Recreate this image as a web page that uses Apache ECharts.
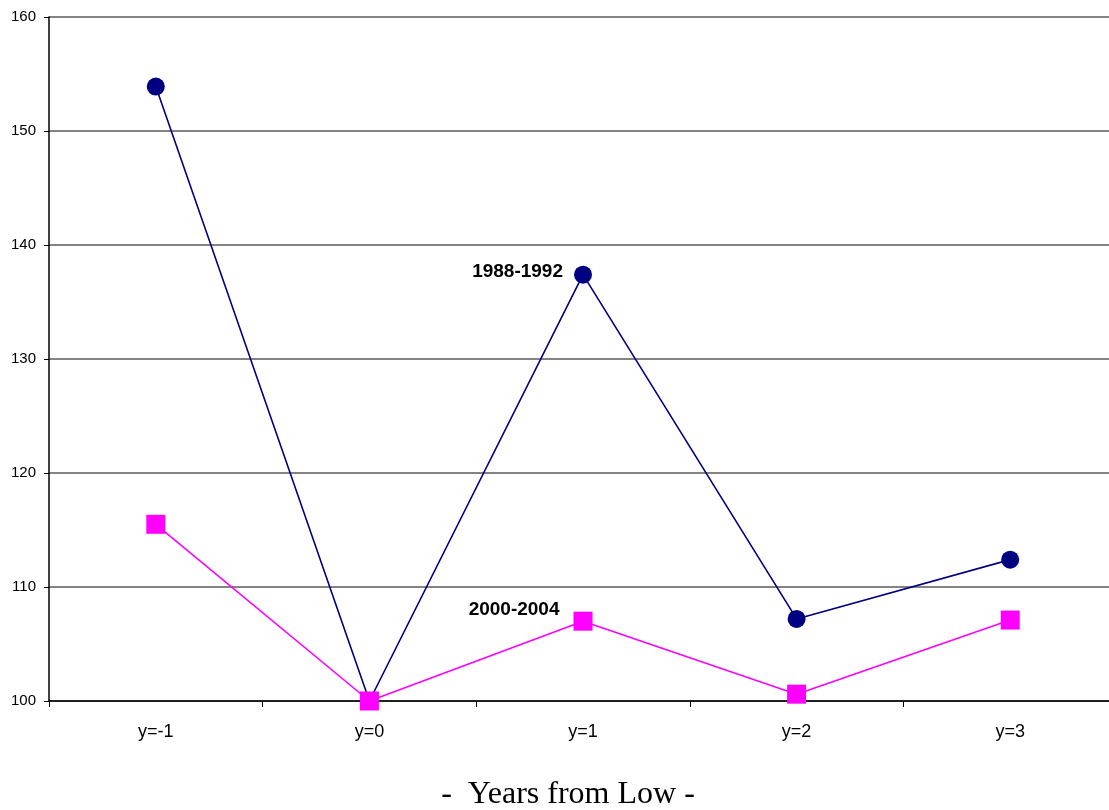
<!DOCTYPE html>
<html><head><meta charset="utf-8">
<script src="https://cdn.jsdelivr.net/npm/echarts@6/dist/echarts.min.js"></script>
<style>html,body{margin:0;padding:0;background:#fff;overflow:hidden}#c{width:1125px;height:810px}</style>
</head><body><div id="c"></div>
<script>
const categories = ['y=-1','y=0','y=1','y=2','y=3'];
const series1988 = [153.9, 100, 137.4, 107.2, 112.4];
const series2000 = [115.5, 100, 107.0, 100.6, 107.1];
const yTicks = [100, 110, 120, 130, 140, 150, 160];

const chart = echarts.init(document.getElementById('c'));
chart.setOption({
  animation: false,
  backgroundColor: '#fff',
  grid: {left: 49, width: 1068, top: 17, height: 684, containLabel: false},
  graphic: [{
    type: 'text', x: 568, y: 795,
    style: {text: '-  Years from Low -', font: '32px "Liberation Serif", "Times New Roman", serif', fill: '#000',
      textAlign: 'center', textVerticalAlign: 'middle'}
  }],
  xAxis: {
    type: 'category', data: categories, boundaryGap: true,
    axisLine: {lineStyle: {color: '#000', width: 1.5}},
    axisTick: {show: true, length: 6, lineStyle: {color: '#000'}},
    axisLabel: {color: '#000', fontFamily: '"Liberation Sans", Arial, sans-serif', fontSize: 18, margin: 22}
  },
  yAxis: {
    type: 'value', min: yTicks[0], max: yTicks[yTicks.length-1], interval: 10,
    axisLine: {show: true, lineStyle: {color: '#000', width: 1.5}},
    axisTick: {show: true, length: 5, lineStyle: {color: '#000'}},
    axisLabel: {color: '#000', fontFamily: '"Liberation Sans", Arial, sans-serif', fontSize: 15, margin: 13},
    splitLine: {show: true, lineStyle: {color: '#5a5a5a', width: 1.5}}
  },
  series: [{
    name: '1988-1992', type: 'line', data: series1988,
    symbol: 'circle', symbolSize: 18,
    lineStyle: {color: '#000080', width: 1.6},
    itemStyle: {color: '#000080'},
    label: {show: true, formatter: p => p.dataIndex === 2 ? '1988-1992' : '', position: 'left', distance: 11,
      fontWeight: 'bold', fontSize: 19, color: '#000', fontFamily: '"Liberation Sans", Arial, sans-serif', offset: [0, -3]}
  }, {
    name: '2000-2004', type: 'line', data: series2000,
    symbol: 'rect', symbolSize: 19,
    lineStyle: {color: '#ff00ff', width: 1.6},
    itemStyle: {color: '#ff00ff'},
    label: {show: true, formatter: p => p.dataIndex === 2 ? '2000-2004' : '', position: 'left', distance: 14,
      fontWeight: 'bold', fontSize: 19, color: '#000', fontFamily: '"Liberation Sans", Arial, sans-serif', offset: [0, -11]}
  }]
});
</script></body></html>
